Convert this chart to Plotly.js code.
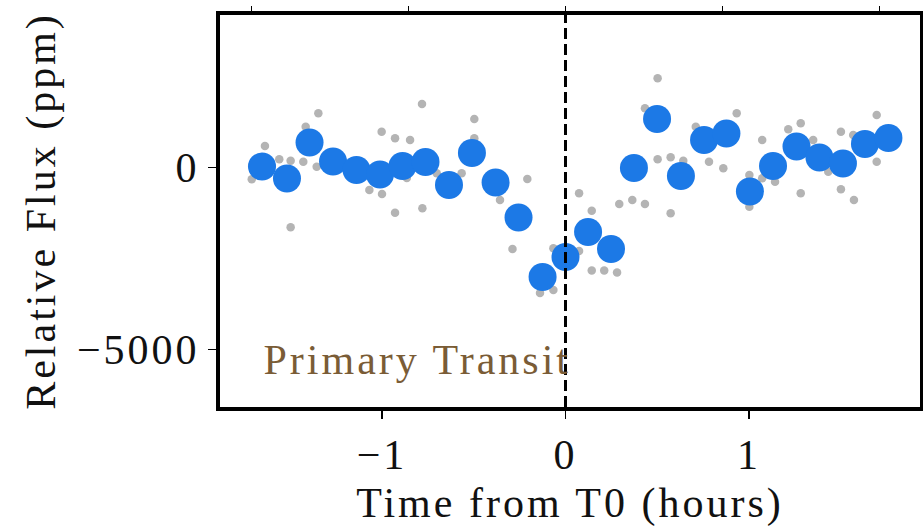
<!DOCTYPE html>
<html>
<head>
<meta charset="utf-8">
<script src="https://cdn.plot.ly/plotly-3.0.1.min.js"></script>
<style>
html,body{margin:0;padding:0;background:#fff;}
#chart{width:923px;height:527px;}
#chart svg text{letter-spacing:3px;}
</style>
</head>
<body>
<div id="chart"></div>
<script>
// Unbinned photometry (grey)
const rawTime = [-1.710,-1.708,-1.638,-1.560,-1.498,-1.498,-1.429,-1.416,-1.356,-1.347,
  -1.069,-1.002,-1.000,-0.929,-0.929,-0.865,-0.847,-0.782,-0.780,-0.702,-0.566,-0.497,-0.497,
  -0.357,-0.289,-0.208,-0.139,-0.066,-0.066,0.074,0.074,0.143,0.143,0.211,0.281,0.293,0.364,
  0.433,0.433,0.502,0.502,0.573,0.573,0.642,0.710,0.782,0.860,0.933,1.002,1.002,1.072,1.072,
  1.142,1.214,1.282,1.282,1.350,1.432,1.501,1.501,1.568,1.572,1.696,1.696];
const rawFlux = [-327,38,587,222,184,-1644,156,1117,19,1485,
  -620,980,-730,799,-1243,-291,752,1740,-1122,-162,-162,1328,799,
  -895,-2239,-318,-3447,-3364,-2220,-711,-2294,-1188,-2829,-2829,-2884,-1004,-895,
  -1004,1622,2445,222,277,-1260,184,1117,156,-25,1485,-209,-1078,752,-299,
  -392,1046,1210,-711,752,-118,980,-601,889,-894,1438,156];
// Binned photometry (blue)
const binTime = [-1.654,-1.518,-1.395,-1.267,-1.139,-1.011,-0.888,-0.763,-0.635,-0.510,
  -0.381,-0.256,-0.125,0.000,0.123,0.248,0.373,0.499,0.629,0.755,0.877,1.005,1.131,1.259,
  1.384,1.512,1.632,1.760];
const binFlux = [25,-305,683,162,-71,-195,38,148,-483,395,
  -414,-1375,-3008,-2459,-1773,-2239,-16,1328,-236,752,930,-661,38,574,
  272,107,642,807];
const t0 = 0;
const xRange = [-1.883, 1.932];
const yRange = [-6575, 4182];
const yTicks = [-5000, 0];
const xTicks = [-1, 0, 1];
const topScale = 0.855;
const topTicks = [-2, -1, 0, 1, 2];
const label = "Primary Transit";
const labelPos = {x: -1.535, y: -5285};

const FONT = "'Liberation Serif', 'DejaVu Serif', serif";

const traces = [
  {x: rawTime, y: rawFlux, mode: 'markers', type: 'scatter',
   marker: {color: '#b4b4b4', size: 8.5}, hoverinfo: 'skip', showlegend: false},
  {x: binTime, y: binFlux, mode: 'markers', type: 'scatter',
   marker: {color: '#1c79e6', size: 28}, hoverinfo: 'skip', showlegend: false},
  {x: [], y: [], xaxis: 'x2', type: 'scatter', mode: 'markers', showlegend: false, hoverinfo: 'skip'}
];

const layout = {
  width: 923, height: 527,
  margin: {l: 220, r: 3, t: 15, b: 120, pad: 0},
  paper_bgcolor: '#fff', plot_bgcolor: '#fff',
  font: {family: FONT, color: '#111', size: 42},
  showlegend: false,
  xaxis: {
    range: xRange, tickvals: xTicks, ticks: 'outside', ticklen: 8, tickwidth: 1.5, tickcolor: '#000',
    showline: true, linewidth: 4, linecolor: '#000', mirror: true,
    showgrid: false, zeroline: false,
    tickfont: {family: FONT, size: 42, color: '#111'},
    title: {text: 'Time from T0 (hours)', font: {family: FONT, size: 42, color: '#111'}, standoff: 14}
  },
  xaxis2: {
    overlaying: 'x', side: 'top',
    range: [xRange[0] / topScale, xRange[1] / topScale],
    tickvals: topTicks, ticks: 'outside', ticklen: 8, tickwidth: 1.5, tickcolor: '#000',
    showticklabels: false, showgrid: false, zeroline: false, showline: false
  },
  yaxis: {
    range: yRange, tickvals: yTicks, ticks: 'outside', ticklen: 8, tickwidth: 1.5, tickcolor: '#000',
    showline: true, linewidth: 4, linecolor: '#000', mirror: true,
    showgrid: false, zeroline: false,
    tickfont: {family: FONT, size: 42, color: '#111'},
    title: {text: 'Relative Flux (ppm)', font: {family: FONT, size: 42, color: '#111'}, standoff: 24}
  },
  shapes: [{
    type: 'line', xref: 'x', yref: 'paper', x0: t0, x1: t0, y0: 0, y1: 1,
    line: {color: '#000', width: 3, dash: '11px,5px'}
  }],
  annotations: [{
    x: labelPos.x, y: labelPos.y, xref: 'x', yref: 'y', text: label, showarrow: false,
    xanchor: 'left', yanchor: 'middle',
    font: {family: FONT, size: 42, color: '#7a5c36'}
  }]
};

Plotly.newPlot('chart', traces, layout, {staticPlot: true, displayModeBar: false});
</script>
</body>
</html>
